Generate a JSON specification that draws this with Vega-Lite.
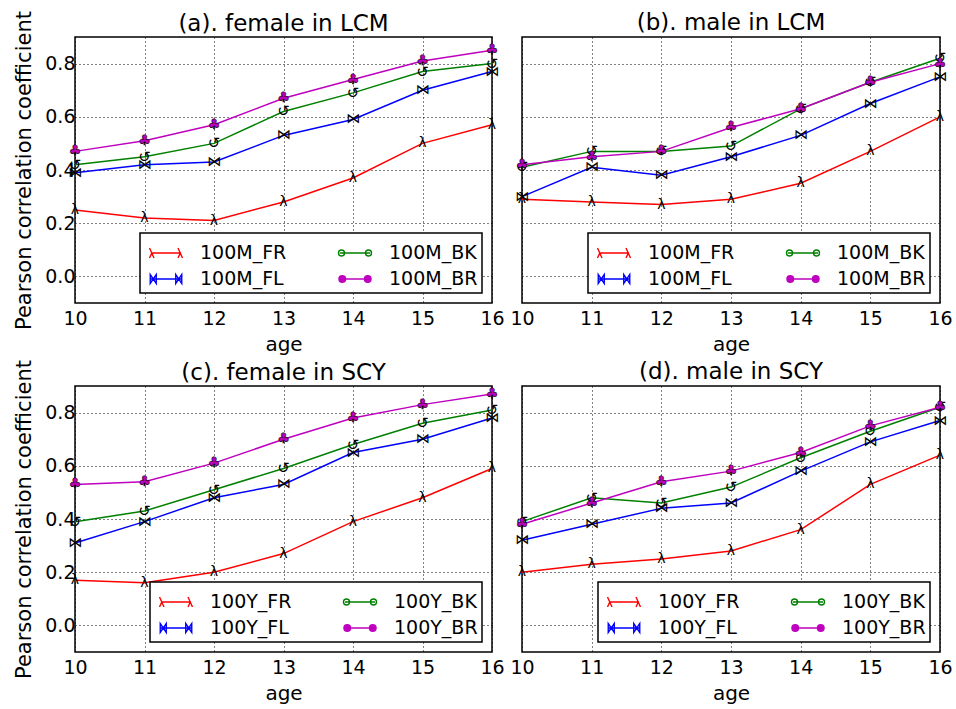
{
"$schema": "https://vega.github.io/schema/vega-lite/v6.json",
"background": "white",
"padding": {"left": 13, "top": 9, "right": 5, "bottom": 5},
"datasets": {
"all": [
{"p":"a","ev":"FR","s":"100M_FR","age":10,"r":0.25},{"p":"a","ev":"FR","s":"100M_FR","age":11,"r":0.22},{"p":"a","ev":"FR","s":"100M_FR","age":12,"r":0.21},{"p":"a","ev":"FR","s":"100M_FR","age":13,"r":0.28},{"p":"a","ev":"FR","s":"100M_FR","age":14,"r":0.37},{"p":"a","ev":"FR","s":"100M_FR","age":15,"r":0.50},{"p":"a","ev":"FR","s":"100M_FR","age":16,"r":0.57},
{"p":"a","ev":"FL","s":"100M_FL","age":10,"r":0.39},{"p":"a","ev":"FL","s":"100M_FL","age":11,"r":0.42},{"p":"a","ev":"FL","s":"100M_FL","age":12,"r":0.43},{"p":"a","ev":"FL","s":"100M_FL","age":13,"r":0.53},{"p":"a","ev":"FL","s":"100M_FL","age":14,"r":0.59},{"p":"a","ev":"FL","s":"100M_FL","age":15,"r":0.70},{"p":"a","ev":"FL","s":"100M_FL","age":16,"r":0.77},
{"p":"a","ev":"BK","s":"100M_BK","age":10,"r":0.42},{"p":"a","ev":"BK","s":"100M_BK","age":11,"r":0.45},{"p":"a","ev":"BK","s":"100M_BK","age":12,"r":0.50},{"p":"a","ev":"BK","s":"100M_BK","age":13,"r":0.62},{"p":"a","ev":"BK","s":"100M_BK","age":14,"r":0.69},{"p":"a","ev":"BK","s":"100M_BK","age":15,"r":0.77},{"p":"a","ev":"BK","s":"100M_BK","age":16,"r":0.80},
{"p":"a","ev":"BR","s":"100M_BR","age":10,"r":0.47},{"p":"a","ev":"BR","s":"100M_BR","age":11,"r":0.51},{"p":"a","ev":"BR","s":"100M_BR","age":12,"r":0.57},{"p":"a","ev":"BR","s":"100M_BR","age":13,"r":0.67},{"p":"a","ev":"BR","s":"100M_BR","age":14,"r":0.74},{"p":"a","ev":"BR","s":"100M_BR","age":15,"r":0.81},{"p":"a","ev":"BR","s":"100M_BR","age":16,"r":0.85},
{"p":"b","ev":"FR","s":"100M_FR","age":10,"r":0.29},{"p":"b","ev":"FR","s":"100M_FR","age":11,"r":0.28},{"p":"b","ev":"FR","s":"100M_FR","age":12,"r":0.27},{"p":"b","ev":"FR","s":"100M_FR","age":13,"r":0.29},{"p":"b","ev":"FR","s":"100M_FR","age":14,"r":0.35},{"p":"b","ev":"FR","s":"100M_FR","age":15,"r":0.47},{"p":"b","ev":"FR","s":"100M_FR","age":16,"r":0.60},
{"p":"b","ev":"FL","s":"100M_FL","age":10,"r":0.30},{"p":"b","ev":"FL","s":"100M_FL","age":11,"r":0.41},{"p":"b","ev":"FL","s":"100M_FL","age":12,"r":0.38},{"p":"b","ev":"FL","s":"100M_FL","age":13,"r":0.45},{"p":"b","ev":"FL","s":"100M_FL","age":14,"r":0.53},{"p":"b","ev":"FL","s":"100M_FL","age":15,"r":0.65},{"p":"b","ev":"FL","s":"100M_FL","age":16,"r":0.75},
{"p":"b","ev":"BK","s":"100M_BK","age":10,"r":0.41},{"p":"b","ev":"BK","s":"100M_BK","age":11,"r":0.47},{"p":"b","ev":"BK","s":"100M_BK","age":12,"r":0.47},{"p":"b","ev":"BK","s":"100M_BK","age":13,"r":0.49},{"p":"b","ev":"BK","s":"100M_BK","age":14,"r":0.63},{"p":"b","ev":"BK","s":"100M_BK","age":15,"r":0.73},{"p":"b","ev":"BK","s":"100M_BK","age":16,"r":0.82},
{"p":"b","ev":"BR","s":"100M_BR","age":10,"r":0.42},{"p":"b","ev":"BR","s":"100M_BR","age":11,"r":0.45},{"p":"b","ev":"BR","s":"100M_BR","age":12,"r":0.47},{"p":"b","ev":"BR","s":"100M_BR","age":13,"r":0.56},{"p":"b","ev":"BR","s":"100M_BR","age":14,"r":0.63},{"p":"b","ev":"BR","s":"100M_BR","age":15,"r":0.73},{"p":"b","ev":"BR","s":"100M_BR","age":16,"r":0.80},
{"p":"c","ev":"FR","s":"100Y_FR","age":10,"r":0.17},{"p":"c","ev":"FR","s":"100Y_FR","age":11,"r":0.16},{"p":"c","ev":"FR","s":"100Y_FR","age":12,"r":0.20},{"p":"c","ev":"FR","s":"100Y_FR","age":13,"r":0.27},{"p":"c","ev":"FR","s":"100Y_FR","age":14,"r":0.39},{"p":"c","ev":"FR","s":"100Y_FR","age":15,"r":0.48},{"p":"c","ev":"FR","s":"100Y_FR","age":16,"r":0.59},
{"p":"c","ev":"FL","s":"100Y_FL","age":10,"r":0.31},{"p":"c","ev":"FL","s":"100Y_FL","age":11,"r":0.39},{"p":"c","ev":"FL","s":"100Y_FL","age":12,"r":0.48},{"p":"c","ev":"FL","s":"100Y_FL","age":13,"r":0.53},{"p":"c","ev":"FL","s":"100Y_FL","age":14,"r":0.65},{"p":"c","ev":"FL","s":"100Y_FL","age":15,"r":0.70},{"p":"c","ev":"FL","s":"100Y_FL","age":16,"r":0.78},
{"p":"c","ev":"BK","s":"100Y_BK","age":10,"r":0.39},{"p":"c","ev":"BK","s":"100Y_BK","age":11,"r":0.43},{"p":"c","ev":"BK","s":"100Y_BK","age":12,"r":0.51},{"p":"c","ev":"BK","s":"100Y_BK","age":13,"r":0.59},{"p":"c","ev":"BK","s":"100Y_BK","age":14,"r":0.68},{"p":"c","ev":"BK","s":"100Y_BK","age":15,"r":0.76},{"p":"c","ev":"BK","s":"100Y_BK","age":16,"r":0.81},
{"p":"c","ev":"BR","s":"100Y_BR","age":10,"r":0.53},{"p":"c","ev":"BR","s":"100Y_BR","age":11,"r":0.54},{"p":"c","ev":"BR","s":"100Y_BR","age":12,"r":0.61},{"p":"c","ev":"BR","s":"100Y_BR","age":13,"r":0.70},{"p":"c","ev":"BR","s":"100Y_BR","age":14,"r":0.78},{"p":"c","ev":"BR","s":"100Y_BR","age":15,"r":0.83},{"p":"c","ev":"BR","s":"100Y_BR","age":16,"r":0.87},
{"p":"d","ev":"FR","s":"100Y_FR","age":10,"r":0.20},{"p":"d","ev":"FR","s":"100Y_FR","age":11,"r":0.23},{"p":"d","ev":"FR","s":"100Y_FR","age":12,"r":0.25},{"p":"d","ev":"FR","s":"100Y_FR","age":13,"r":0.28},{"p":"d","ev":"FR","s":"100Y_FR","age":14,"r":0.36},{"p":"d","ev":"FR","s":"100Y_FR","age":15,"r":0.53},{"p":"d","ev":"FR","s":"100Y_FR","age":16,"r":0.64},
{"p":"d","ev":"FL","s":"100Y_FL","age":10,"r":0.32},{"p":"d","ev":"FL","s":"100Y_FL","age":11,"r":0.38},{"p":"d","ev":"FL","s":"100Y_FL","age":12,"r":0.44},{"p":"d","ev":"FL","s":"100Y_FL","age":13,"r":0.46},{"p":"d","ev":"FL","s":"100Y_FL","age":14,"r":0.58},{"p":"d","ev":"FL","s":"100Y_FL","age":15,"r":0.69},{"p":"d","ev":"FL","s":"100Y_FL","age":16,"r":0.77},
{"p":"d","ev":"BK","s":"100Y_BK","age":10,"r":0.39},{"p":"d","ev":"BK","s":"100Y_BK","age":11,"r":0.48},{"p":"d","ev":"BK","s":"100Y_BK","age":12,"r":0.46},{"p":"d","ev":"BK","s":"100Y_BK","age":13,"r":0.52},{"p":"d","ev":"BK","s":"100Y_BK","age":14,"r":0.63},{"p":"d","ev":"BK","s":"100Y_BK","age":15,"r":0.73},{"p":"d","ev":"BK","s":"100Y_BK","age":16,"r":0.82},
{"p":"d","ev":"BR","s":"100Y_BR","age":10,"r":0.38},{"p":"d","ev":"BR","s":"100Y_BR","age":11,"r":0.46},{"p":"d","ev":"BR","s":"100Y_BR","age":12,"r":0.54},{"p":"d","ev":"BR","s":"100Y_BR","age":13,"r":0.58},{"p":"d","ev":"BR","s":"100Y_BR","age":14,"r":0.65},{"p":"d","ev":"BR","s":"100Y_BR","age":15,"r":0.75},{"p":"d","ev":"BR","s":"100Y_BR","age":16,"r":0.82}
]
},
"data": {"name": "all"},
"spacing": 3,
"resolve": {"scale": {"color": "independent", "stroke": "independent", "fill": "independent", "shape": "independent"}, "legend": {"color": "independent", "stroke": "independent", "fill": "independent", "shape": "independent"}},
"vconcat": [
{
"hconcat": [
{
"width": 417, "height": 266,
"title": {"text": "(a). female in LCM", "dy": 27},
"transform": [{"filter": "datum.p == 'a'"}],
"encoding": {
"x": {"field": "age", "type": "quantitative", "scale": {"domain": [10, 16], "nice": false, "zero": false}, "axis": {"values": [10,11,12,13,14,15,16], "format": "d", "title": "age", "labelPadding": 6, "titlePadding": 6}},
"y": {"field": "r", "type": "quantitative", "scale": {"domain": [-0.1, 0.9], "nice": false, "zero": false}, "axis": {"values": [0, 0.2, 0.4, 0.6, 0.8], "format": ".1f", "title": "Pearson correlation coefficient", "titleFontSize": 21, "labelPadding": 0, "titlePadding": 10}}
},
"resolve": {"scale": {"color": "independent", "stroke": "independent", "fill": "independent", "shape": "independent"}},
"layer": [
{"mark": {"type": "line", "strokeWidth": 1.5}, "encoding": {"color": {"field": "s", "type": "nominal", "scale": {"domain": ["100M_FR","100M_FL","100M_BK","100M_BR"], "range": ["#ff0000","#0000ff","#008000","#bf00bf"]}, "legend": null}}},
{"mark": {"type": "point", "opacity": 0}, "encoding": {
"stroke": {"field": "s", "type": "nominal", "scale": {"domain": ["100M_FR","100M_FL","100M_BK","100M_BR"], "range": ["#ff0000","#0000ff","#008000","#bf00bf"]}, "legend": {"title": null}},
"fill": {"field": "s", "type": "nominal", "scale": {"domain": ["100M_FR","100M_FL","100M_BK","100M_BR"], "range": ["transparent","white","white","#bf00bf"]}, "legend": {"title": null}},
"shape": {"field": "s", "type": "nominal", "scale": {"domain": ["100M_FR","100M_FL","100M_BK","100M_BR"], "range": ["M-1,0H1M-1.1,-0.33L-0.8,0.33M-0.95,0L-1.1,0.33M0.8,-0.33L1.1,0.33M0.95,0L0.8,0.33","M-1,0H1M-1.05,-0.3V0.3L-0.65,-0.3V0.3ZM0.65,-0.3V0.3L1.05,-0.3V0.3Z","M-1,0H1M-1.1,0A0.2,0.2 0 1,0 -0.7,0A0.2,0.2 0 1,0 -1.1,0M0.7,0A0.2,0.2 0 1,0 1.1,0A0.2,0.2 0 1,0 0.7,0","M-1,0H1M-1.07,0A0.22,0.22 0 1,0 -0.63,0A0.22,0.22 0 1,0 -1.07,0M0.63,0A0.22,0.22 0 1,0 1.07,0A0.22,0.22 0 1,0 0.63,0"]}, "legend": {"title": null}}
}},
{"transform": [{"filter": "datum.ev == 'FR'"}], "mark": {"type": "text", "text": "λ", "fontSize": 14, "color": "black", "baseline": "middle"}},
{"transform": [{"filter": "datum.ev == 'FL'"}], "mark": {"type": "text", "text": "⋈", "fontSize": 14, "color": "black", "baseline": "middle"}},
{"transform": [{"filter": "datum.ev == 'BK'"}], "mark": {"type": "text", "text": "↺", "fontSize": 15, "color": "black", "baseline": "middle"}},
{"transform": [{"filter": "datum.ev == 'BR'"}], "mark": {"type": "text", "text": "♣", "fontSize": 14, "fill": "#bf00bf", "stroke": "black", "strokeWidth": 0.6, "baseline": "middle"}}
]
},
{
"width": 418, "height": 266,
"title": "(b). male in LCM",
"transform": [{"filter": "datum.p == 'b'"}],
"encoding": {
"x": {"field": "age", "type": "quantitative", "scale": {"domain": [10, 16], "nice": false, "zero": false}, "axis": {"values": [10,11,12,13,14,15,16], "format": "d", "title": "age", "labelPadding": 6, "titlePadding": 6}},
"y": {"field": "r", "type": "quantitative", "scale": {"domain": [-0.1, 0.9], "nice": false, "zero": false}, "axis": {"values": [0, 0.2, 0.4, 0.6, 0.8], "labels": false, "title": null}}
},
"resolve": {"scale": {"color": "independent", "stroke": "independent", "fill": "independent", "shape": "independent"}},
"layer": [
{"mark": {"type": "line", "strokeWidth": 1.5}, "encoding": {"color": {"field": "s", "type": "nominal", "scale": {"domain": ["100M_FR","100M_FL","100M_BK","100M_BR"], "range": ["#ff0000","#0000ff","#008000","#bf00bf"]}, "legend": null}}},
{"mark": {"type": "point", "opacity": 0}, "encoding": {
"stroke": {"field": "s", "type": "nominal", "scale": {"domain": ["100M_FR","100M_FL","100M_BK","100M_BR"], "range": ["#ff0000","#0000ff","#008000","#bf00bf"]}, "legend": {"title": null}},
"fill": {"field": "s", "type": "nominal", "scale": {"domain": ["100M_FR","100M_FL","100M_BK","100M_BR"], "range": ["transparent","white","white","#bf00bf"]}, "legend": {"title": null}},
"shape": {"field": "s", "type": "nominal", "scale": {"domain": ["100M_FR","100M_FL","100M_BK","100M_BR"], "range": ["M-1,0H1M-1.1,-0.33L-0.8,0.33M-0.95,0L-1.1,0.33M0.8,-0.33L1.1,0.33M0.95,0L0.8,0.33","M-1,0H1M-1.05,-0.3V0.3L-0.65,-0.3V0.3ZM0.65,-0.3V0.3L1.05,-0.3V0.3Z","M-1,0H1M-1.1,0A0.2,0.2 0 1,0 -0.7,0A0.2,0.2 0 1,0 -1.1,0M0.7,0A0.2,0.2 0 1,0 1.1,0A0.2,0.2 0 1,0 0.7,0","M-1,0H1M-1.07,0A0.22,0.22 0 1,0 -0.63,0A0.22,0.22 0 1,0 -1.07,0M0.63,0A0.22,0.22 0 1,0 1.07,0A0.22,0.22 0 1,0 0.63,0"]}, "legend": {"title": null}}
}},
{"transform": [{"filter": "datum.ev == 'FR'"}], "mark": {"type": "text", "text": "λ", "fontSize": 14, "color": "black", "baseline": "middle"}},
{"transform": [{"filter": "datum.ev == 'FL'"}], "mark": {"type": "text", "text": "⋈", "fontSize": 14, "color": "black", "baseline": "middle"}},
{"transform": [{"filter": "datum.ev == 'BK'"}], "mark": {"type": "text", "text": "↺", "fontSize": 15, "color": "black", "baseline": "middle"}},
{"transform": [{"filter": "datum.ev == 'BR'"}], "mark": {"type": "text", "text": "♣", "fontSize": 14, "fill": "#bf00bf", "stroke": "black", "strokeWidth": 0.6, "baseline": "middle"}}
]
}
],
"spacing": 30, "bounds": "flush",
"resolve": {"scale": {"color": "independent", "stroke": "independent", "fill": "independent", "shape": "independent"}, "legend": {"color": "independent", "stroke": "independent", "fill": "independent", "shape": "independent"}}
},
{
"hconcat": [
{
"width": 417, "height": 266,
"title": {"text": "(c). female in SCY", "dy": 27},
"transform": [{"filter": "datum.p == 'c'"}],
"encoding": {
"x": {"field": "age", "type": "quantitative", "scale": {"domain": [10, 16], "nice": false, "zero": false}, "axis": {"values": [10,11,12,13,14,15,16], "format": "d", "title": "age", "labelPadding": 6, "titlePadding": 6}},
"y": {"field": "r", "type": "quantitative", "scale": {"domain": [-0.1, 0.9], "nice": false, "zero": false}, "axis": {"values": [0, 0.2, 0.4, 0.6, 0.8], "format": ".1f", "title": "Pearson correlation coefficient", "titleFontSize": 21, "labelPadding": 0, "titlePadding": 10}}
},
"resolve": {"scale": {"color": "independent", "stroke": "independent", "fill": "independent", "shape": "independent"}},
"layer": [
{"mark": {"type": "line", "strokeWidth": 1.5}, "encoding": {"color": {"field": "s", "type": "nominal", "scale": {"domain": ["100Y_FR","100Y_FL","100Y_BK","100Y_BR"], "range": ["#ff0000","#0000ff","#008000","#bf00bf"]}, "legend": null}}},
{"mark": {"type": "point", "opacity": 0}, "encoding": {
"stroke": {"field": "s", "type": "nominal", "scale": {"domain": ["100Y_FR","100Y_FL","100Y_BK","100Y_BR"], "range": ["#ff0000","#0000ff","#008000","#bf00bf"]}, "legend": {"title": null}},
"fill": {"field": "s", "type": "nominal", "scale": {"domain": ["100Y_FR","100Y_FL","100Y_BK","100Y_BR"], "range": ["transparent","white","white","#bf00bf"]}, "legend": {"title": null}},
"shape": {"field": "s", "type": "nominal", "scale": {"domain": ["100Y_FR","100Y_FL","100Y_BK","100Y_BR"], "range": ["M-1,0H1M-1.1,-0.33L-0.8,0.33M-0.95,0L-1.1,0.33M0.8,-0.33L1.1,0.33M0.95,0L0.8,0.33","M-1,0H1M-1.05,-0.3V0.3L-0.65,-0.3V0.3ZM0.65,-0.3V0.3L1.05,-0.3V0.3Z","M-1,0H1M-1.1,0A0.2,0.2 0 1,0 -0.7,0A0.2,0.2 0 1,0 -1.1,0M0.7,0A0.2,0.2 0 1,0 1.1,0A0.2,0.2 0 1,0 0.7,0","M-1,0H1M-1.07,0A0.22,0.22 0 1,0 -0.63,0A0.22,0.22 0 1,0 -1.07,0M0.63,0A0.22,0.22 0 1,0 1.07,0A0.22,0.22 0 1,0 0.63,0"]}, "legend": {"title": null}}
}},
{"transform": [{"filter": "datum.ev == 'FR'"}], "mark": {"type": "text", "text": "λ", "fontSize": 14, "color": "black", "baseline": "middle"}},
{"transform": [{"filter": "datum.ev == 'FL'"}], "mark": {"type": "text", "text": "⋈", "fontSize": 14, "color": "black", "baseline": "middle"}},
{"transform": [{"filter": "datum.ev == 'BK'"}], "mark": {"type": "text", "text": "↺", "fontSize": 15, "color": "black", "baseline": "middle"}},
{"transform": [{"filter": "datum.ev == 'BR'"}], "mark": {"type": "text", "text": "♣", "fontSize": 14, "fill": "#bf00bf", "stroke": "black", "strokeWidth": 0.6, "baseline": "middle"}}
]
},
{
"width": 418, "height": 266,
"title": "(d). male in SCY",
"transform": [{"filter": "datum.p == 'd'"}],
"encoding": {
"x": {"field": "age", "type": "quantitative", "scale": {"domain": [10, 16], "nice": false, "zero": false}, "axis": {"values": [10,11,12,13,14,15,16], "format": "d", "title": "age", "labelPadding": 6, "titlePadding": 6}},
"y": {"field": "r", "type": "quantitative", "scale": {"domain": [-0.1, 0.9], "nice": false, "zero": false}, "axis": {"values": [0, 0.2, 0.4, 0.6, 0.8], "labels": false, "title": null}}
},
"resolve": {"scale": {"color": "independent", "stroke": "independent", "fill": "independent", "shape": "independent"}},
"layer": [
{"mark": {"type": "line", "strokeWidth": 1.5}, "encoding": {"color": {"field": "s", "type": "nominal", "scale": {"domain": ["100Y_FR","100Y_FL","100Y_BK","100Y_BR"], "range": ["#ff0000","#0000ff","#008000","#bf00bf"]}, "legend": null}}},
{"mark": {"type": "point", "opacity": 0}, "encoding": {
"stroke": {"field": "s", "type": "nominal", "scale": {"domain": ["100Y_FR","100Y_FL","100Y_BK","100Y_BR"], "range": ["#ff0000","#0000ff","#008000","#bf00bf"]}, "legend": {"title": null}},
"fill": {"field": "s", "type": "nominal", "scale": {"domain": ["100Y_FR","100Y_FL","100Y_BK","100Y_BR"], "range": ["transparent","white","white","#bf00bf"]}, "legend": {"title": null}},
"shape": {"field": "s", "type": "nominal", "scale": {"domain": ["100Y_FR","100Y_FL","100Y_BK","100Y_BR"], "range": ["M-1,0H1M-1.1,-0.33L-0.8,0.33M-0.95,0L-1.1,0.33M0.8,-0.33L1.1,0.33M0.95,0L0.8,0.33","M-1,0H1M-1.05,-0.3V0.3L-0.65,-0.3V0.3ZM0.65,-0.3V0.3L1.05,-0.3V0.3Z","M-1,0H1M-1.1,0A0.2,0.2 0 1,0 -0.7,0A0.2,0.2 0 1,0 -1.1,0M0.7,0A0.2,0.2 0 1,0 1.1,0A0.2,0.2 0 1,0 0.7,0","M-1,0H1M-1.07,0A0.22,0.22 0 1,0 -0.63,0A0.22,0.22 0 1,0 -1.07,0M0.63,0A0.22,0.22 0 1,0 1.07,0A0.22,0.22 0 1,0 0.63,0"]}, "legend": {"title": null}}
}},
{"transform": [{"filter": "datum.ev == 'FR'"}], "mark": {"type": "text", "text": "λ", "fontSize": 14, "color": "black", "baseline": "middle"}},
{"transform": [{"filter": "datum.ev == 'FL'"}], "mark": {"type": "text", "text": "⋈", "fontSize": 14, "color": "black", "baseline": "middle"}},
{"transform": [{"filter": "datum.ev == 'BK'"}], "mark": {"type": "text", "text": "↺", "fontSize": 15, "color": "black", "baseline": "middle"}},
{"transform": [{"filter": "datum.ev == 'BR'"}], "mark": {"type": "text", "text": "♣", "fontSize": 14, "fill": "#bf00bf", "stroke": "black", "strokeWidth": 0.6, "baseline": "middle"}}
]
}
],
"spacing": 30, "bounds": "flush",
"resolve": {"scale": {"color": "independent", "stroke": "independent", "fill": "independent", "shape": "independent"}, "legend": {"color": "independent", "stroke": "independent", "fill": "independent", "shape": "independent"}}
}
],
"config": {
"font": "DejaVu Sans",
"view": {"stroke": "black", "strokeWidth": 1.5},
"axis": {"grid": true, "gridColor": "black", "gridDash": [1, 3], "gridOpacity": 1, "gridWidth": 1, "domain": false, "ticks": false, "tickSize": 0, "labelFontSize": 19, "labelColor": "black", "labelFont": "DejaVu Sans", "labelFlush": false, "labelOverlap": false, "titleFontSize": 20, "titleFontWeight": "normal", "titleColor": "black", "titleFont": "DejaVu Sans"},
"title": {"fontSize": 23, "fontWeight": "normal", "font": "DejaVu Sans", "color": "black", "offset": 2},
"legend": {"orient": "bottom-right", "offset": 10, "columns": 2, "strokeColor": "black", "fillColor": "white", "padding": 4, "symbolOffset": 6, "labelFontSize": 19, "labelFont": "DejaVu Sans", "labelColor": "black", "symbolSize": 900, "symbolStrokeWidth": 1.4, "symbolOpacity": 1, "columnPadding": 46, "rowPadding": 0, "labelOffset": 18, "cornerRadius": 0, "strokeWidth": 1.5}
}
}
